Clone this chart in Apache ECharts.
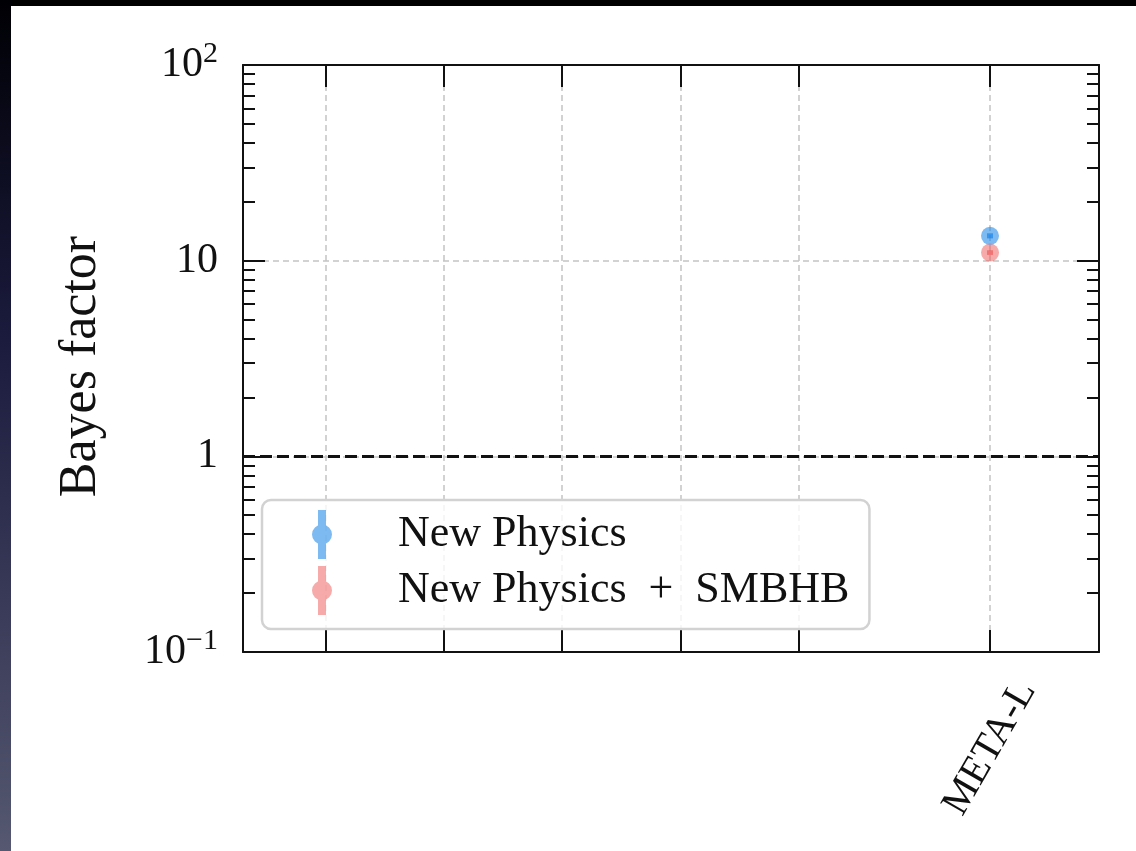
<!DOCTYPE html>
<html>
<head>
<meta charset="utf-8">
<script src="https://cdn.jsdelivr.net/npm/echarts@6/dist/echarts.min.js"></script>
<style>
  html, body { margin: 0; padding: 0; background: #fff; }
  #chart { width: 1136px; height: 851px; }
</style>
</head>
<body>
<div id="chart"></div>
<script>
// Tick positions along the experiment axis and their labels
const tickPositions = [0, 1, 2, 3, 4, 5.62];
const tickLabels = ['', '', '', '', '', 'META-L'];

// Bayes factor per model (x = experiment position)
const newPhysics = [[5.62, 13.4]];
const newPhysicsErr = [[5.62, 13.0, 13.8]];
const newPhysicsSmbhb = [[5.62, 11.0]];
const newPhysicsSmbhbErr = [[5.62, 10.7, 11.3]];

// Log-axis tick values
const yMajor = [0.1, 1, 10, 100];
const yMinor = [0.2, 0.3, 0.4, 0.5, 0.6, 0.7, 0.8, 0.9,
                2, 3, 4, 5, 6, 7, 8, 9,
                20, 30, 40, 50, 60, 70, 80, 90];
const yLabels = { 0.1: '10{sup|−1}', 1: '1', 10: '10', 100: '10{sup|2}' };

const blue = 'rgba(30,135,232,0.72)';
const red = 'rgba(236,82,82,0.62)';
const serif = '"Liberation Serif", "DejaVu Serif", serif';
const xMin = -0.7, xMax = 6.542;

const chart = echarts.init(document.getElementById('chart'));

const errorBar = (color) => ({
  renderItem(params, api) {
    const x = api.value(0);
    const lo = api.coord([x, api.value(1)]);
    const hi = api.coord([x, api.value(2)]);
    return {
      type: 'line',
      shape: { x1: lo[0], y1: lo[1], x2: hi[0], y2: hi[1] },
      style: { stroke: color, lineWidth: 6 }
    };
  }
});

const gridLine = { show: true, lineStyle: { color: '#c4c4c4', width: 1.5, type: [6, 4] } };
const tickStyle = { color: '#111', width: 2 };
const frameLine = { show: true, onZero: false, lineStyle: { color: '#111', width: 2 } };
const noLine = { show: false, onZero: false };

const legendIcon = 'path://M6,0H14V49H6Z M20,24.5A10,10,0,1,1,0,24.5A10,10,0,1,1,20,24.5Z';

chart.setOption({
  animation: false,
  backgroundColor: '#fff',
  graphic: [
    { type: 'rect', left: 0, top: 0, shape: { width: 1136, height: 6 }, style: { fill: '#000' }, z: 100 },
    { type: 'rect', left: 0, top: 0, shape: { width: 11, height: 851 }, z: 100,
      style: { fill: new echarts.graphic.LinearGradient(0, 0, 0, 1, [
        { offset: 0, color: '#000004' },
        { offset: 0.4, color: '#1b1b3e' },
        { offset: 1, color: '#555870' }
      ]) } }
  ],
  grid: { left: 243, top: 65, right: 37, bottom: 199, show: false },
  xAxis: [
    {
      type: 'value', min: xMin, max: xMax, position: 'bottom',
      axisLine: frameLine,
      axisTick: { show: true, inside: true, length: 22, customValues: tickPositions, lineStyle: tickStyle },
      axisLabel: {
        show: true, customValues: tickPositions.filter((p, i) => tickLabels[i] !== ''),
        formatter: (v) => tickLabels[tickPositions.indexOf(v)] || '',
        rotate: 60, align: 'center', verticalAlign: 'middle', margin: 96,
        fontFamily: serif, fontSize: 40, color: '#111'
      },
      splitLine: gridLine
    },
    {
      type: 'value', min: xMin, max: xMax, position: 'top',
      axisLine: frameLine,
      axisTick: { show: true, inside: true, length: 22, customValues: tickPositions, lineStyle: tickStyle },
      axisLabel: { show: false },
      splitLine: { show: false }
    }
  ],
  yAxis: [
    {
      type: 'log', logBase: 10, min: 0.1, max: 100, position: 'left',
      name: 'Bayes factor', nameLocation: 'middle', nameGap: 136, nameRotate: 90,
      nameTextStyle: { fontFamily: serif, fontSize: 52, color: '#111', padding: [0, 16, 0, 0] },
      axisLine: frameLine,
      axisTick: { show: true, inside: true, length: 22, customValues: yMajor, lineStyle: tickStyle },
      axisLabel: {
        customValues: yMajor, margin: 25,
        formatter: (v) => yLabels[v] !== undefined ? yLabels[v] : '',
        fontFamily: serif, fontSize: 42, color: '#111',
        rich: {
          sup: { fontFamily: serif, fontSize: 30, color: '#111', padding: [0, 0, 22, 0] }
        }
      },
      splitLine: gridLine
    },
    {
      type: 'log', logBase: 10, min: 0.1, max: 100, position: 'left',
      axisLine: noLine,
      axisTick: { show: true, inside: true, length: 12, customValues: yMinor, lineStyle: tickStyle },
      axisLabel: { show: false },
      splitLine: { show: false }
    },
    {
      type: 'log', logBase: 10, min: 0.1, max: 100, position: 'right',
      axisLine: frameLine,
      axisTick: { show: true, inside: true, length: 22, customValues: yMajor, lineStyle: tickStyle },
      axisLabel: { show: false },
      splitLine: { show: false }
    },
    {
      type: 'log', logBase: 10, min: 0.1, max: 100, position: 'right',
      axisLine: noLine,
      axisTick: { show: true, inside: true, length: 12, customValues: yMinor, lineStyle: tickStyle },
      axisLabel: { show: false },
      splitLine: { show: false }
    }
  ],
  legend: {
    orient: 'vertical', left: 262, top: 500,
    padding: [10, 20, 14, 50], itemGap: 7,
    itemWidth: 20, itemHeight: 49,
    backgroundColor: 'rgba(255,255,255,0.8)',
    borderColor: '#d2d2d2', borderWidth: 2.5, borderRadius: 9,
    textStyle: { fontFamily: serif, fontSize: 44, color: '#111', padding: [0, 0, 0, 61] },
    data: [
      { name: 'New Physics', icon: legendIcon },
      { name: 'New Physics + SMBHB', icon: legendIcon }
    ],
    formatter: (name) => name.replace(' + ', '  +  ')
  },
  series: [
    {
      name: 'New Physics', type: 'scatter', data: newPhysics,
      symbol: 'circle', symbolSize: 18, itemStyle: { color: blue },
      z: 5,
      markLine: {
        silent: true, symbol: 'none', label: { show: false },
        lineStyle: { color: '#111', width: 3, type: [12, 5] },
        data: [{ yAxis: 1 }]
      }
    },
    {
      name: 'New Physics + SMBHB', type: 'scatter', data: newPhysicsSmbhb,
      symbol: 'circle', symbolSize: 18, itemStyle: { color: red }, z: 4
    },
    Object.assign({ name: 'np-err', type: 'custom', data: newPhysicsErr, z: 6 }, errorBar(blue)),
    Object.assign({ name: 'smbhb-err', type: 'custom', data: newPhysicsSmbhbErr, z: 5 }, errorBar(red))
  ]
});
</script>
</body>
</html>
